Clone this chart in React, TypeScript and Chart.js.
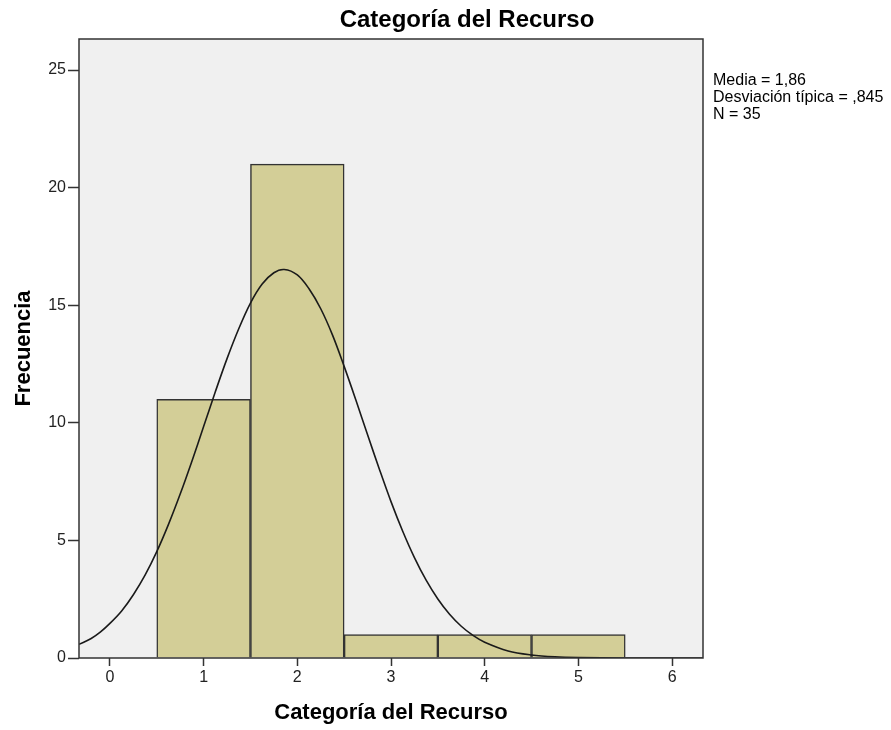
import React, { useEffect, useRef } from "react";
import { Chart, registerables } from "chart.js";

Chart.register(...registerables);

const chartTitle = "Categoría del Recurso";
const xAxisTitle = "Categoría del Recurso";
const yAxisTitle = "Frecuencia";
const statsLines = ["Media = 1,86", "Desviación típica = ,845", "N = 35"];

const binCenters = [1, 2, 3, 4, 5];
const frequencies = [11, 21, 1, 1, 1];

const curveX = [-0.33, -0.2, -0.1, 0, 0.125, 0.25, 0.375, 0.5, 0.625, 0.75, 0.875, 1, 1.125, 1.25, 1.375, 1.5, 1.625, 1.75, 1.86, 2, 2.125, 2.25, 2.375, 2.5, 2.625, 2.75, 2.875, 3, 3.125, 3.25, 3.375, 3.5, 3.625, 3.75, 3.875, 4, 4.25, 4.5, 4.75, 5, 5.5, 6, 6.33];
const curveY = [0.58, 0.83, 1.11, 1.47, 2.0, 2.69, 3.52, 4.52, 5.68, 6.97, 8.37, 9.84, 11.32, 12.73, 14.0, 15.09, 15.9, 16.38, 16.52, 16.29, 15.7, 14.85, 13.74, 12.4, 10.97, 9.49, 8.04, 6.65, 5.39, 4.27, 3.31, 2.51, 1.86, 1.35, 0.96, 0.67, 0.3, 0.13, 0.05, 0.02, 0.002, 0, 0];

const xTickValues = [0, 1, 2, 3, 4, 5, 6];
const yTickValues = [0, 5, 10, 15, 20, 25];

const FONT = 'Arial, "Liberation Sans", sans-serif';

export default function App() {
  const ref = useRef<HTMLCanvasElement | null>(null);

  useEffect(() => {
    if (!ref.current) return;
    const framePlugin = {
      id: "frame",
      beforeDraw(chart: any) {
        const { ctx, chartArea: a } = chart;
        ctx.save();
        ctx.fillStyle = "#ffffff";
        ctx.fillRect(0, 0, chart.width, chart.height);
        ctx.fillStyle = "#F0F0F0";
        ctx.fillRect(a.left, a.top, a.right - a.left, a.bottom - a.top);
        ctx.restore();
      },
      afterDraw(chart: any) {
        const { ctx, chartArea: a } = chart;
        ctx.save();
        ctx.strokeStyle = "#333333";
        ctx.lineWidth = 1.5;
        ctx.strokeRect(a.left, a.top, a.right - a.left, a.bottom - a.top);
        ctx.fillStyle = "#000000";
        ctx.font = `bold 24px ${FONT}`;
        ctx.textAlign = "center";
        ctx.textBaseline = "alphabetic";
        ctx.fillText(chartTitle, 467, 27);
        ctx.font = `16px ${FONT}`;
        ctx.textAlign = "left";
        statsLines.forEach((t, i) => ctx.fillText(t, 713, 85 + i * 17));
        ctx.restore();
      },
    };

    const chart = new Chart(ref.current, {
      type: "bar",
      data: {
        datasets: [
          {
            type: "line",
            data: curveX.map((x, i) => ({ x, y: curveY[i] })),
            borderColor: "#1a1a1a",
            borderWidth: 1.6,
            pointRadius: 0,
            tension: 0.35,
            fill: false,
            order: 1,
          } as any,
          {
            type: "bar",
            data: binCenters.map((x, i) => ({ x, y: frequencies[i] })),
            backgroundColor: "#D3CE97",
            borderColor: "#333333",
            borderWidth: 1.5,
            barPercentage: 1,
            categoryPercentage: 1,
            order: 2,
          } as any,
        ],
      },
      options: {
        animation: false,
        responsive: false,
        layout: { padding: { left: 0, right: 188, top: 39, bottom: 0 } },
        plugins: { legend: { display: false }, tooltip: { enabled: false }, title: { display: false } },
        scales: {
          x: {
            type: "linear",
            offset: false,
            min: -0.33,
            max: 6.33,
            afterBuildTicks: (s: any) => {
              s.ticks = xTickValues.map((v) => ({ value: v }));
            },
            afterFit: (s: any) => {
              s.height = 72;
            },
            grid: { offset: false, drawOnChartArea: false, drawTicks: true, tickLength: 8, tickColor: "#333333", tickWidth: 1.5 },
            border: { display: false },
            ticks: { color: "#222222", font: { size: 16, family: FONT }, padding: 2, maxRotation: 0 },
            title: { display: true, text: xAxisTitle, color: "#000000", font: { size: 22, weight: "bold", family: FONT }, padding: { top: 0, bottom: 4 } },
          },
          y: {
            type: "linear",
            min: 0,
            max: 26.32,
            afterBuildTicks: (s: any) => {
              s.ticks = yTickValues.map((v) => ({ value: v }));
            },
            afterFit: (s: any) => {
              s.width = 79;
            },
            grid: { drawOnChartArea: false, drawTicks: true, tickLength: 11, tickColor: "#333333", tickWidth: 1.5 },
            border: { display: false },
            ticks: { color: "#222222", font: { size: 16, family: FONT }, padding: 2 },
            title: { display: true, text: yAxisTitle, color: "#000000", font: { size: 22, weight: "bold", family: FONT }, padding: { top: 11, bottom: 0 } },
          },
        },
      } as any,
      plugins: [framePlugin],
    });
    return () => chart.destroy();
  }, []);

  return (
    <div style={{ position: "absolute", left: 0, top: 0, width: 891, height: 730 }}>
      <canvas ref={ref} width={891} height={730} style={{ width: 891, height: 730, display: "block" }} />
    </div>
  );
}
